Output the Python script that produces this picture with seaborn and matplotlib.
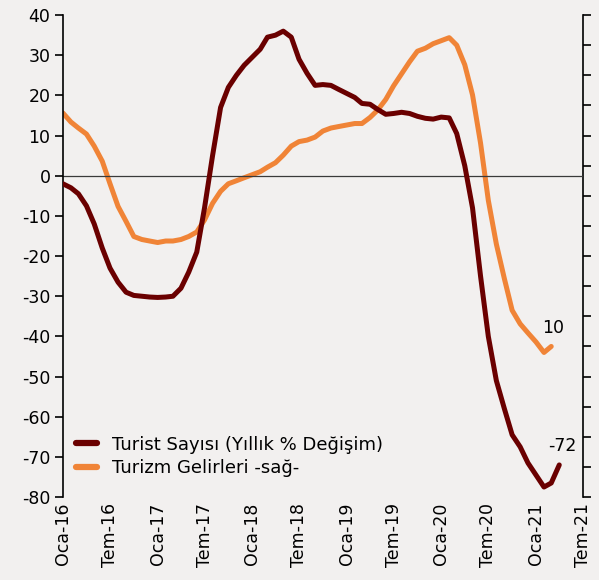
import pandas as pd
import matplotlib
matplotlib.use("Agg")
import matplotlib.pyplot as plt
import seaborn as sns

# Turist sayisi, yillik % degisim (sol eksen), Oca-16 .. Nis-21
turist = [-2, -3, -4.5, -7.5, -12, -18, -23, -26.5, -29, -29.8, -30, -30.2, -30.3, -30.2,
          -30, -28, -24, -19, -8, 5, 17, 22, 25, 27.5, 29.5, 31.5, 34.5, 35, 36, 34.5,
          29, 25.5, 22.5, 22.7, 22.5, 21.5, 20.5, 19.5, 18, 17.8, 16.5, 15.3, 15.5, 15.8,
          15.5, 14.8, 14.3, 14.1, 14.6, 14.4, 10.5, 2.5, -8, -25, -40, -51, -58, -64.5,
          -67.5, -71.5, -74.5, -77.5, -76.5, -72]

# Turizm gelirleri, yillik toplam (sag eksen), Oca-16 .. Mar-21
gelir = [25.5, 24.9, 24.5, 24.1, 23.3, 22.3, 20.8, 19.3, 18.3, 17.3, 17.1, 17.0, 16.9, 17.0,
         17.0, 17.1, 17.3, 17.6, 18.4, 19.5, 20.3, 20.8, 21.0, 21.2, 21.4, 21.6, 21.9, 22.2,
         22.7, 23.3, 23.6, 23.7, 23.9, 24.3, 24.5, 24.6, 24.7, 24.8, 24.8, 25.2, 25.7, 26.4,
         27.3, 28.1, 28.9, 29.6, 29.8, 30.1, 30.3, 30.5, 30.0, 28.7, 26.7, 23.5, 19.7, 16.8,
         14.5, 12.4, 11.5, 10.9, 10.3, 9.6, 10.0]

tick_labels = ["Oca-16", "Tem-16", "Oca-17", "Tem-17", "Oca-18", "Tem-18",
               "Oca-19", "Tem-19", "Oca-20", "Tem-20", "Oca-21", "Tem-21"]

label_turist = "Turist Sayısı (Yıllık % Değişim)"
label_gelir = "Turizm Gelirleri -sağ-"

c_turist = "#6a0000"
c_gelir = "#f08437"
bg = "#f2f0ef"

sns.set_style("white")
plt.rcParams["font.family"] = ["DejaVu Sans"]
plt.rcParams["axes.unicode_minus"] = False
plt.rcParams["text.color"] = "black"
plt.rcParams["xtick.color"] = "black"
plt.rcParams["ytick.color"] = "black"

df1 = pd.DataFrame({"tarih": pd.date_range("2016-01-01", periods=len(turist), freq="MS"),
                    "deger": turist})
df2 = pd.DataFrame({"tarih": pd.date_range("2016-01-01", periods=len(gelir), freq="MS"),
                    "deger": gelir})

fig = plt.figure(figsize=(5.99, 5.80), dpi=100, facecolor=bg)
ax = fig.add_axes([0.105, 0.143, 0.868, 0.831])
ax.set_facecolor(bg)
ax2 = ax.twinx()

ax.axhline(0, color="#3a3a3a", lw=0.9, zorder=1)
sns.lineplot(data=df1, x="tarih", y="deger", ax=ax, color=c_turist, lw=3.6,
             label=label_turist, legend=False, zorder=3)
sns.lineplot(data=df2, x="tarih", y="deger", ax=ax2, color=c_gelir, lw=3.6,
             label=label_gelir, legend=False, zorder=3)

ax.set_ylim(-80, 40)
ax.set_yticks(range(-80, 41, 10))
ax2.set_ylim(0, 32)
ax2.set_yticks(range(0, 33, 2))
ax2.set_yticklabels([])

ticks = pd.date_range("2016-01-01", "2021-07-01", freq="6MS")
ax.set_xticks(ticks)
ax.set_xticklabels(tick_labels, rotation=90, fontsize=12.5)
ax.set_xlim(ticks[0], ticks[-1])
ax.set_xlabel("")
ax.set_ylabel("")
ax2.set_ylabel("")

for a in (ax, ax2):
    for s in ("top", "bottom"):
        a.spines[s].set_visible(False)
ax.spines["right"].set_visible(False)
ax2.spines["left"].set_visible(False)
ax.spines["left"].set_color("black")
ax2.spines["right"].set_color("black")
ax.spines["left"].set_linewidth(1.2)
ax2.spines["right"].set_linewidth(1.2)

ax.tick_params(axis="y", left=True, length=6, width=1.2, labelsize=12.5, pad=3,
               colors="black")
ax.tick_params(axis="x", bottom=False, length=0, pad=4, colors="black")
ax2.tick_params(axis="y", right=True, length=6, width=1.2, colors="black")

# son degerler
ax2.annotate(f"{gelir[-1]:.0f}", (df2["tarih"].iloc[-1], gelir[-1]),
             xytext=(1, 7), textcoords="offset points", ha="center", va="bottom",
             fontsize=12.5, color="black")
ax.annotate(f"{turist[-1]:.0f}", (df1["tarih"].iloc[-1], turist[-1]),
            xytext=(2, 7), textcoords="offset points", ha="center", va="bottom",
            fontsize=12.5, color="black")

h1, l1 = ax.get_legend_handles_labels()
h2, l2 = ax2.get_legend_handles_labels()
leg = ax.legend(h1 + h2, l1 + l2, loc="lower left", bbox_to_anchor=(0.0, 0.015),
                frameon=False, fontsize=13, handlelength=1.2, handletextpad=0.8,
                labelspacing=0.3, borderaxespad=0.3, labelcolor="black")
for line in leg.get_lines():
    line.set_linewidth(4.5)
    line.set_solid_capstyle("round")
ax.set_zorder(ax2.get_zorder() + 1)
ax.patch.set_visible(False)
ax2.patch.set_visible(True)
ax2.patch.set_facecolor(bg)

fig.savefig("out.png", dpi=100, facecolor=bg)
